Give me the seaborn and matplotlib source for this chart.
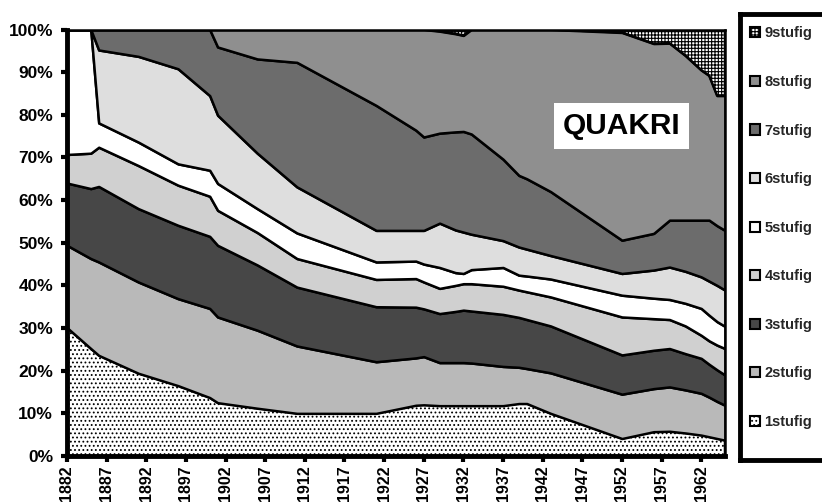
import numpy as np
import pandas as pd
import matplotlib
matplotlib.use("Agg")
import matplotlib.pyplot as plt
import seaborn as sns
from matplotlib.patches import Patch

# years where the shares change slope
years = [1882, 1885, 1886, 1891, 1896, 1900, 1901, 1906, 1911, 1921, 1926, 1927,
         1929, 1931, 1932, 1933, 1937, 1939, 1940, 1943, 1952, 1956, 1958, 1960,
         1962, 1963, 1964, 1965]

# share of each category in percent
s1 = [30.1, 25.2, 23.6, 19.4, 16.5, 13.7, 12.5, 11.2, 10.0, 10.0, 11.9, 12.0,
      11.8, 11.8, 11.8, 11.8, 11.8, 12.3, 12.3, 10.0, 4.1, 5.7, 5.8, 5.4,
      4.9, 4.5, 4.1, 3.7]
s2 = [19.3, 21.1, 21.9, 21.4, 20.4, 20.9, 20.1, 18.3, 15.8, 12.1, 11.1, 11.3,
      10.1, 10.1, 10.1, 10.0, 9.2, 8.5, 8.2, 9.5, 10.4, 10.1, 10.4, 10.1,
      9.8, 9.3, 8.7, 8.2]
s3 = [14.6, 16.4, 17.7, 17.2, 17.2, 16.9, 16.8, 15.3, 13.8, 12.9, 11.9, 11.2,
      11.5, 12.0, 12.3, 12.2, 12.2, 11.7, 11.5, 11.0, 9.2, 9.0, 9.0, 8.5,
      8.2, 7.7, 7.4, 7.1]
s4 = [6.7, 8.3, 9.2, 10.1, 9.4, 9.4, 8.2, 7.6, 6.7, 6.4, 6.7, 6.3,
      5.9, 6.1, 6.2, 6.4, 6.6, 6.4, 6.5, 6.8, 8.9, 7.4, 6.8, 6.5,
      5.4, 5.5, 5.8, 6.2]
s5 = [29.3, 29.0, 5.7, 5.5, 5.0, 6.1, 6.3, 5.6, 6.0, 4.1, 4.1, 4.2,
      4.9, 3.0, 2.4, 3.3, 4.4, 3.5, 3.7, 4.2, 5.1, 4.8, 4.7, 5.3,
      6.3, 6.0, 5.5, 5.2]
s6 = [0.0, 0.0, 17.1, 20.1, 22.3, 17.5, 16.0, 13.0, 10.8, 7.4, 7.2, 7.9,
      10.4, 10.0, 9.7, 8.3, 6.3, 6.6, 6.3, 5.5, 5.1, 6.6, 7.6, 7.5,
      7.4, 8.0, 8.5, 8.5]
s7 = [0.0, 0.0, 4.8, 6.3, 9.2, 15.5, 16.0, 22.1, 29.2, 29.3, 23.5, 21.9,
      21.1, 23.0, 23.6, 23.5, 19.1, 16.8, 16.5, 15.0, 7.8, 8.6, 11.0, 12.0,
      13.3, 14.3, 14.0, 14.0]
s8 = [0.0, 0.0, 0.0, 0.0, 0.0, 0.0, 4.1, 6.9, 7.7, 17.8, 23.6, 25.2,
      23.9, 23.0, 22.5, 24.5, 30.4, 34.2, 35.0, 38.0, 48.7, 44.5, 41.5, 38.6,
      35.2, 33.9, 30.5, 31.6]
s9 = [0.0, 0.0, 0.0, 0.0, 0.0, 0.0, 0.0, 0.0, 0.0, 0.0, 0.0, 0.0,
      0.4, 1.0, 1.4, 0.0, 0.0, 0.0, 0.0, 0.0, 0.7, 3.3, 3.2, 6.1,
      9.5, 10.8, 15.5, 15.5]

labels = ["1stufig", "2stufig", "3stufig", "4stufig", "5stufig",
          "6stufig", "7stufig", "8stufig", "9stufig"]
tick_years = list(range(1882, 1963, 5))

df = pd.DataFrame(dict(zip(labels, [s1, s2, s3, s4, s5, s6, s7, s8, s9])), index=years)

colors = ["white", "#b9b9b9", "#474747", "#d0d0d0", "white",
          "#dedede", "#6c6c6c", "#8f8f8f", "white"]
hatches = ["....", None, None, None, None, None, None, None, "+++++"]

sns.set_theme(style="white")
plt.rcParams["font.family"] = ["Liberation Sans", "DejaVu Sans"]
plt.rcParams["font.weight"] = "bold"
plt.rcParams["hatch.linewidth"] = 0.8

fig = plt.figure(figsize=(8.22, 5.03), dpi=100)
ax = fig.add_axes([67 / 822, 1 - 456 / 503, (725 - 67) / 822, (456 - 29.5) / 503])

polys = ax.stackplot(df.index, [df[c] for c in labels], colors=colors,
                     edgecolor="black", linewidth=1.8)
for p, h in zip(polys, hatches):
    if h:
        p.set_hatch(h)

ax.set_xlim(1882, 1965)
ax.set_ylim(0, 100)
ax.set_xticks(tick_years)
ax.set_xticklabels([str(y) for y in tick_years], rotation=90, fontsize=11.5,
                   fontweight="bold")
ax.set_yticks(range(0, 101, 10))
ax.set_yticklabels([f"{v}%" for v in range(0, 101, 10)], fontsize=12.5,
                   fontweight="bold")
ax.tick_params(axis="both", direction="out", length=4, width=3, colors="black",
               left=True, bottom=True)
ax.tick_params(axis="y", pad=6)
ax.tick_params(axis="x", pad=3)

for side in ["left", "bottom"]:
    ax.spines[side].set_linewidth(3.5)
    ax.spines[side].set_color("black")
for side in ["top", "right"]:
    ax.spines[side].set_linewidth(1.8)
    ax.spines[side].set_color("black")
ax.spines["left"].set_zorder(5)
ax.spines["bottom"].set_zorder(5)

ax.text(0.843, 0.774, "QUAKRI", transform=ax.transAxes, ha="center", va="center",
        fontsize=21.5, fontweight="bold", color="black", zorder=6,
        bbox=dict(facecolor="white", edgecolor="none", pad=6.5))

# legend box as its own frame
lax = fig.add_axes([740 / 822, 1 - 460 / 503, 100 / 822, (460 - 14) / 503])
lax.set_xticks([])
lax.set_yticks([])
lax.set_facecolor("white")
for sp in lax.spines.values():
    sp.set_linewidth(3.5)
    sp.set_color("black")

handles = [Patch(facecolor=c, edgecolor="black", hatch=h, linewidth=1.5, label=l)
           for c, h, l in zip(colors, hatches, labels)]
leg = lax.legend(handles=handles[::-1], loc="upper left",
                 bbox_to_anchor=(0.1, 0.972), frameon=False,
                 fontsize=10.5, handlelength=0.7, handleheight=0.7,
                 handletextpad=0.3, labelspacing=2.37, borderpad=0,
                 borderaxespad=0)
for t in leg.get_texts():
    t.set_fontweight("bold")

fig.savefig("out.png", dpi=100)
